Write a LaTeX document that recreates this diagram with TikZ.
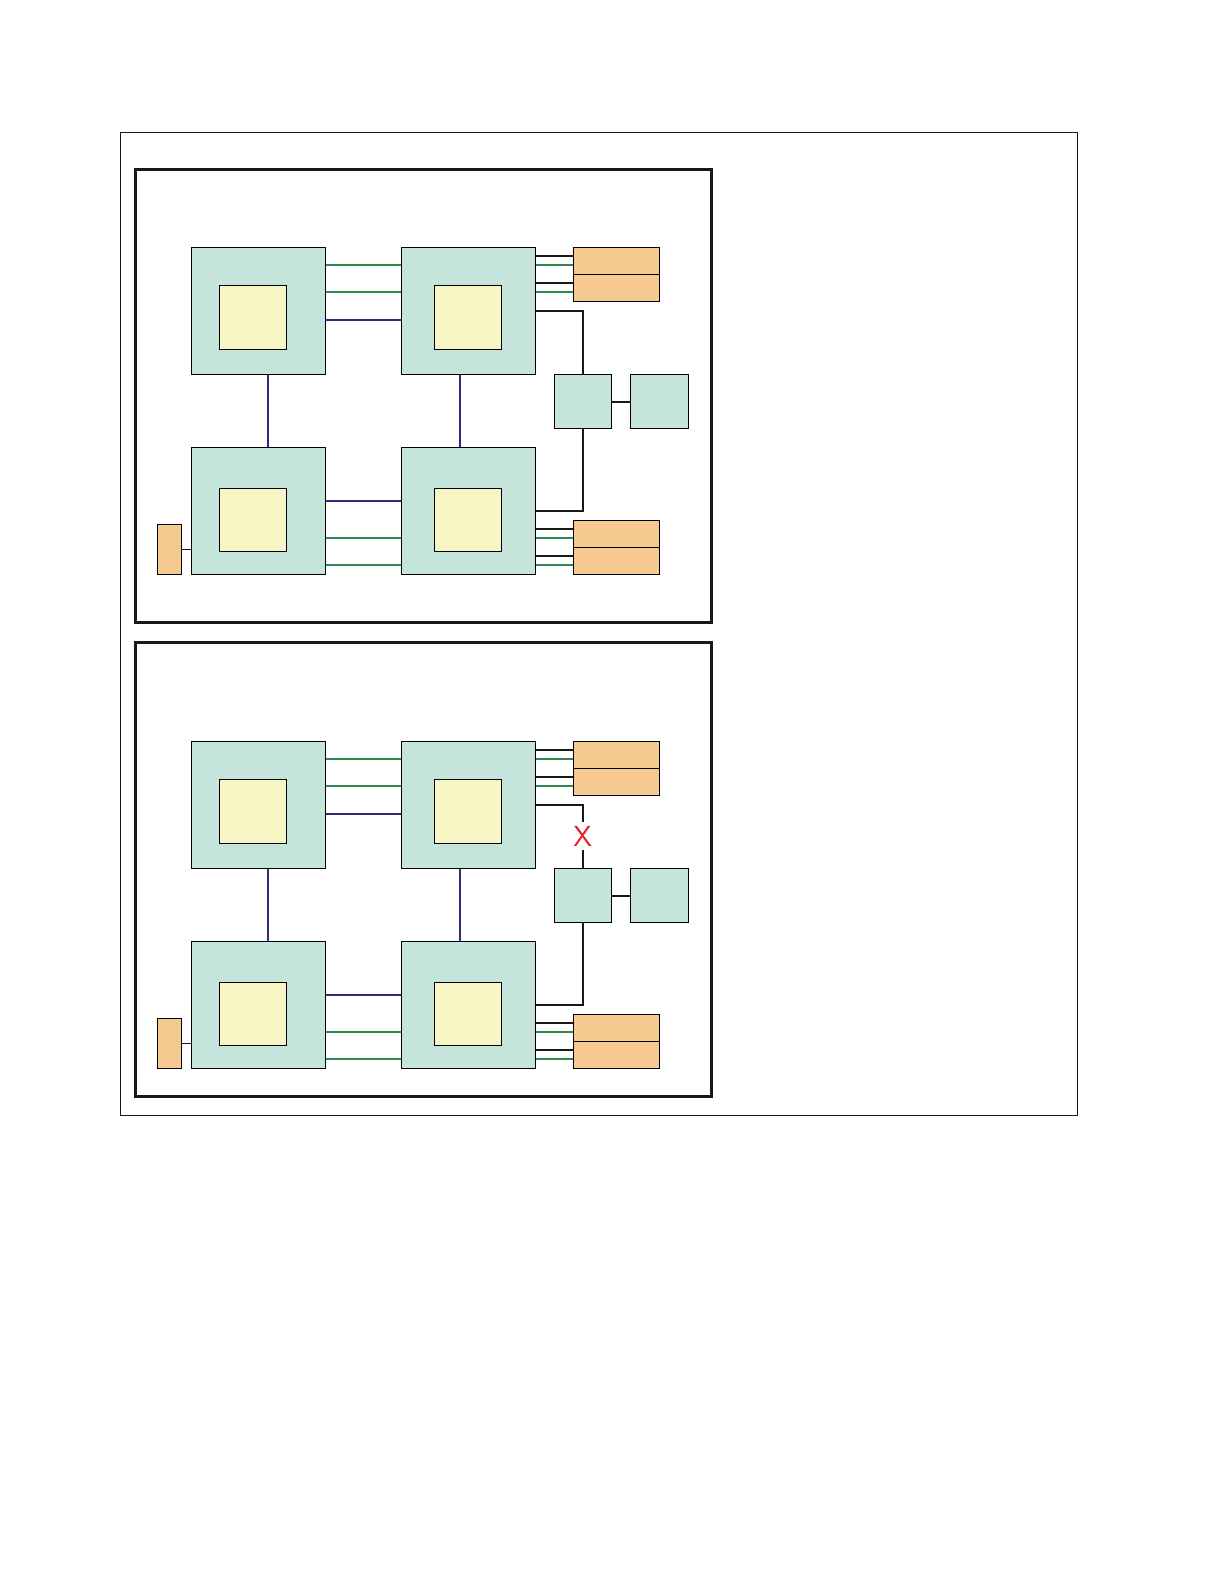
\documentclass[tikz,border=0pt]{standalone}
\usepackage{tikz}

\definecolor{chipfill}{HTML}{C5E4DC}
\definecolor{corefill}{HTML}{F8F5C5}
\definecolor{memfill}{HTML}{F5C98F}
\definecolor{linkgreen}{HTML}{2E8B50}
\definecolor{linkblue}{HTML}{2B2B80}
\definecolor{failred}{HTML}{E0202A}

\begin{document}
\begin{tikzpicture}[x=0.5pt, y=-0.5pt,
    chip/.style={draw, line width=0.5pt, fill=chipfill, inner sep=0pt, minimum width=66.75pt, minimum height=63.35pt},
    core/.style={draw, line width=0.5pt, fill=corefill, inner sep=0pt, minimum width=33.5pt, minimum height=31.6pt},
    mem/.style={draw, line width=0.5pt, fill=memfill, inner sep=0pt, minimum width=43pt, minimum height=13.4pt},
    hub/.style={draw, line width=0.5pt, fill=chipfill, inner sep=0pt, minimum height=26.8pt},
    grn/.style={draw=linkgreen, line width=1pt},
    blu/.style={draw=linkblue, line width=1pt},
    blk/.style={draw=black!90, line width=1pt},
    panel/.style={draw=black!90, line width=1.5pt}]

    \useasboundingbox (0,0) rectangle (1224,1584);
    \draw[line width=0.5pt, black!90] (120.3,132.3) rectangle (1077.3,1115);

    \draw[panel] (135.5,169.5) rectangle (711.5,622.3);
    \draw[panel] (135.5,642.8) rectangle (711.5,1096.8);

    \foreach \p/\dy in {1/0,2/494} {
        \node[chip] (tl\p) at (258.5,310.7+\dy) {};
        \node[chip] (tr\p) at (468.4,310.7+\dy) {};
        \node[chip] (bl\p) at (258.5,510.9+\dy) {};
        \node[chip] (br\p) at (468.4,510.9+\dy) {};

        \node[core] (ctl\p) at (252.9,317.4+\dy) {};
        \node[core] (ctr\p) at (467.7,317.4+\dy) {};
        \node[core] (cbl\p) at (252.5,520.1+\dy) {};
        \node[core] (cbr\p) at (467.7,520.1+\dy) {};

        \node[mem] (ma\p) at (616.3,260.8+\dy) {};
        \node[mem] (mb\p) at (616.3,287.8+\dy) {};
        \node[mem] (mc\p) at (616.3,534+\dy) {};
        \node[mem] (md\p) at (616.3,560.7+\dy) {};

        \node[hub, minimum width=28.5pt] (sw\p) at (582.8,401.5+\dy) {};
        \node[hub, minimum width=29pt] (nb\p) at (659.3,401.5+\dy) {};
        \node[mem, minimum width=12.1pt, minimum height=24.9pt] (io\p) at (169.4,549.2+\dy) {};

        % chip to chip
        \draw[grn] (tl\p.east |- 0,264.7+\dy) -- (tr\p.west |- 0,264.7+\dy);
        \draw[grn] (tl\p.east |- 0,291.7+\dy) -- (tr\p.west |- 0,291.7+\dy);
        \draw[blu] (tl\p.east |- 0,320+\dy) -- (tr\p.west |- 0,320+\dy);
        \draw[blu] (bl\p.east |- 0,501+\dy) -- (br\p.west |- 0,501+\dy);
        \draw[grn] (bl\p.east |- 0,537.5+\dy) -- (br\p.west |- 0,537.5+\dy);
        \draw[grn] (bl\p.east |- 0,565+\dy) -- (br\p.west |- 0,565+\dy);
        \draw[blu] (tl\p.south -| 268,0) -- (bl\p.north -| 268,0);
        \draw[blu] (tr\p.south -| 459.5,0) -- (br\p.north -| 459.5,0);

        % chip to memory
        \draw[blk] (tr\p.east |- 0,255.7+\dy) -- (ma\p.west |- 0,255.7+\dy);
        \draw[grn] (tr\p.east |- 0,264.7+\dy) -- (ma\p.west |- 0,264.7+\dy);
        \draw[blk] (tr\p.east |- 0,282.7+\dy) -- (mb\p.west |- 0,282.7+\dy);
        \draw[grn] (tr\p.east |- 0,292+\dy) -- (mb\p.west |- 0,292+\dy);
        \draw[blk] (br\p.east |- 0,529+\dy) -- (mc\p.west |- 0,529+\dy);
        \draw[grn] (br\p.east |- 0,537.7+\dy) -- (mc\p.west |- 0,537.7+\dy);
        \draw[blk] (br\p.east |- 0,556+\dy) -- (md\p.west |- 0,556+\dy);
        \draw[grn] (br\p.east |- 0,565+\dy) -- (md\p.west |- 0,565+\dy);

        \draw[blk] (br\p.east) -| (sw\p.south);
        \draw[blk] (sw\p) -- (nb\p);
        \draw[line width=0.5pt, black!90] (io\p.east) -- (io\p.east -| bl\p.west);
    }

    \draw[blk] (tr1.east) -| (sw1.north);

    \node[inner sep=0pt, minimum height=14pt, text=failred, font=\sffamily\fontsize{14.5}{14.5}\selectfont] (x2) at (582.8,836) {X};
    \draw[blk] (tr2.east) -| (x2.north);
    \draw[blk] (x2.south) -- (sw2.north);
\end{tikzpicture}
\end{document}
